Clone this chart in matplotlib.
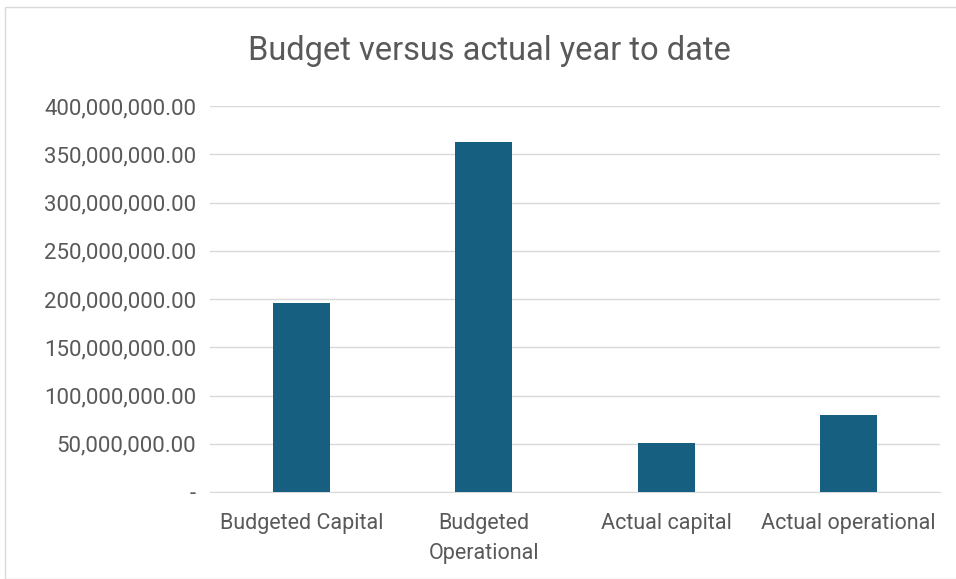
import matplotlib.pyplot as plt
from matplotlib.ticker import FuncFormatter
from matplotlib.patches import Rectangle

categories = ["Budgeted Capital", "Budgeted\nOperational", "Actual capital", "Actual operational"]
values = [195900000, 363000000, 51000000, 79800000]
y_ticks = [0, 50e6, 100e6, 150e6, 200e6, 250e6, 300e6, 350e6, 400e6]

plt.rcParams['font.family'] = ['Roboto', 'DejaVu Sans']
text_color = '#595959'

fig = plt.figure(figsize=(9.56, 5.79), dpi=100)
fig.patches.append(Rectangle((5 / 956, 0), 1, 1 - 7 / 579, transform=fig.transFigure,
                             fill=False, edgecolor='#D9D9D9', linewidth=1))
ax = fig.add_axes([210 / 956, 1 - 492 / 579, 730 / 956, 386 / 579])

x = range(len(categories))
ax.bar(x, values, width=0.31, color='#175F80', zorder=3)

ax.set_xlim(-0.5, 3.5)
ax.set_ylim(0, 400e6)
ax.set_yticks(y_ticks)
ax.yaxis.set_major_formatter(FuncFormatter(lambda v, p: '-' if v == 0 else f'{v:,.2f}'))
ax.grid(axis='y', color='#D9D9D9', linewidth=1, zorder=0)
ax.set_xticks(list(x))
ax.set_xticklabels(categories, fontsize=15.5, color=text_color, va='top', linespacing=1.6)
ax.tick_params(axis='y', length=0, labelsize=16, labelcolor=text_color, pad=10)
ax.tick_params(axis='x', length=0, labelcolor=text_color, pad=15)
for s in ['top', 'right', 'left']:
    ax.spines[s].set_visible(False)
ax.spines['bottom'].set_color('#D9D9D9')

fig.text(489 / 956, 1 - 51 / 579, 'Budget versus actual year to date', ha='center', va='center',
         fontsize=23.5, color=text_color)

fig.savefig('out.png', dpi=100)
